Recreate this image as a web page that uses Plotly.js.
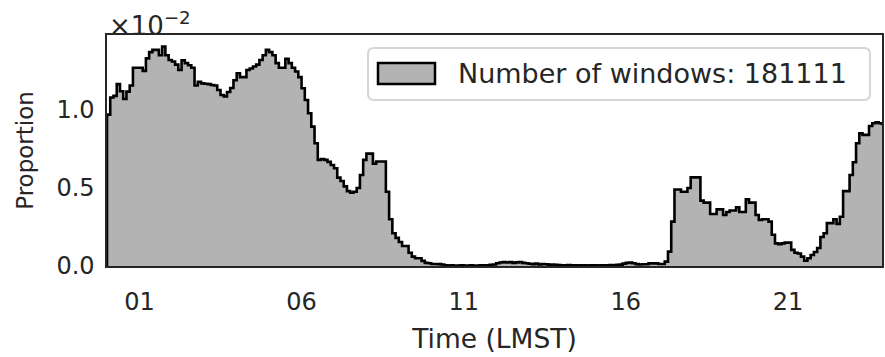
<!DOCTYPE html>
<html>
<head>
<meta charset="utf-8">
<script src="https://cdn.plot.ly/plotly-3.0.1.min.js"></script>
<style>
  html, body { margin: 0; padding: 0; background: #fff; }
  #chart { width: 885px; height: 357px; }
</style>
</head>
<body>
<div id="chart"></div>
<script>
// histogram of window start times, 0.1 h bins, proportion in units of 1e-2
const binWidth = 0.1;
const proportion = [
  0.97, 1.08, 1.09, 1.165, 1.12, 1.07, 1.117, 1.156, 1.27, 1.27,
  1.27, 1.25, 1.33, 1.37, 1.385, 1.385, 1.35, 1.406, 1.35, 1.32,
  1.31, 1.29, 1.256, 1.318, 1.30, 1.286, 1.27, 1.156, 1.18, 1.17,
  1.168, 1.165, 1.16, 1.156, 1.128, 1.096, 1.087, 1.115, 1.14, 1.19,
  1.235, 1.21, 1.21, 1.256, 1.265, 1.278, 1.29, 1.32, 1.35, 1.385,
  1.37, 1.35, 1.30, 1.27, 1.27, 1.327, 1.30, 1.27, 1.246, 1.21,
  1.139, 1.064, 0.979, 0.893, 0.786, 0.68, 0.686, 0.68, 0.667, 0.647,
  0.626, 0.566, 0.545, 0.51, 0.48, 0.47, 0.476, 0.50, 0.583, 0.68,
  0.72, 0.72, 0.655, 0.67, 0.67, 0.67, 0.476, 0.30, 0.21, 0.18,
  0.154, 0.128, 0.128, 0.085, 0.06, 0.05, 0.05, 0.033, 0.02, 0.018,
  0.013, 0.013, 0.012, 0.01, 0.004, 0.003, 0.004, 0.002, 0.003, 0.004,
  0.003, 0.003, 0.004, 0.002, 0.003, 0.004, 0.005, 0.005, 0.008, 0.01,
  0.018, 0.022, 0.025, 0.022, 0.025, 0.02, 0.023, 0.026, 0.02, 0.018,
  0.014, 0.012, 0.015, 0.01, 0.012, 0.011, 0.009, 0.01, 0.008, 0.006,
  0.005, 0.004, 0.006, 0.005, 0.004, 0.003, 0.005, 0.004, 0.003, 0.004,
  0.005, 0.003, 0.004, 0.005, 0.004, 0.006, 0.005, 0.007, 0.009, 0.015,
  0.02, 0.022, 0.018, 0.012, 0.01, 0.011, 0.011, 0.017, 0.017, 0.017,
  0.013, 0.013, 0.028, 0.092, 0.284, 0.49, 0.49, 0.476, 0.476, 0.50,
  0.568, 0.568, 0.568, 0.419, 0.406, 0.406, 0.333, 0.333, 0.363, 0.363,
  0.327, 0.346, 0.356, 0.356, 0.376, 0.346, 0.346, 0.427, 0.406, 0.406,
  0.327, 0.295, 0.30, 0.30, 0.284, 0.20, 0.145, 0.14, 0.145, 0.15,
  0.15, 0.103, 0.085, 0.08, 0.06, 0.034, 0.05, 0.07, 0.09, 0.115,
  0.186, 0.21, 0.275, 0.275, 0.30, 0.27, 0.316, 0.48, 0.48, 0.583,
  0.665, 0.786, 0.85, 0.84, 0.84, 0.897, 0.915, 0.92, 0.915, 0.91
];
const tickHours = [1, 6, 11, 16, 21];
const tickText = ['01', '06', '11', '16', '21'];
const yTicks = [0, 0.5, 1.0];
const legendLabel = 'Number of windows: 181111';

const ink = '#262626';
const font = 'DejaVu Sans, sans-serif';

// step outline: start on the baseline, then one point per bin edge
const xs = [0];
const ys = [0];
proportion.forEach((v, i) => { xs.push(i * binWidth); ys.push(v); });
xs.push(proportion.length * binWidth); ys.push(proportion[proportion.length - 1]);
xs.push(proportion.length * binWidth); ys.push(0);

const data = [{
  x: xs,
  y: ys,
  type: 'scatter',
  mode: 'lines',
  line: {shape: 'hv', color: '#000', width: 2.6},
  fill: 'tozeroy',
  fillcolor: '#b3b3b3',
  hoverinfo: 'skip',
  showlegend: false
}];

// plot box in pixels, used to place the hand-made legend
const W = 885, H = 357, L = 107, R = 3, T = 35, B = 91;
const pw = W - L - R, ph = H - T - B;
const px = v => (v - L) / pw;
const py = v => (H - B - v) / ph;

function roundRect(x0, y0, x1, y1, r) {
  const rx = r / pw, ry = r / ph;
  const a = px(x0), b = px(x1), c = py(y1), d = py(y0);
  return 'M' + (a + rx) + ',' + c + ' L' + (b - rx) + ',' + c +
    ' Q' + b + ',' + c + ' ' + b + ',' + (c + ry) +
    ' L' + b + ',' + (d - ry) + ' Q' + b + ',' + d + ' ' + (b - rx) + ',' + d +
    ' L' + (a + rx) + ',' + d + ' Q' + a + ',' + d + ' ' + a + ',' + (d - ry) +
    ' L' + a + ',' + (c + ry) + ' Q' + a + ',' + c + ' ' + (a + rx) + ',' + c + ' Z';
}

const layout = {
  width: W,
  height: H,
  margin: {l: L, r: R, t: T, b: B},
  paper_bgcolor: '#fff',
  plot_bgcolor: '#fff',
  font: {family: font, color: ink, size: 24},
  showlegend: false,
  xaxis: {
    range: [0, 23.9],
    tickvals: tickHours,
    ticktext: tickText,
    ticks: 'outside',
    ticklen: 14,
    tickcolor: 'rgba(0,0,0,0)',
    showgrid: false,
    zeroline: false,
    showline: true,
    mirror: true,
    linecolor: ink,
    linewidth: 1.6,
    tickfont: {size: 24},
    title: {text: 'Time (LMST)', font: {size: 26.5}, standoff: 14}
  },
  yaxis: {
    range: [0, 1.48],
    tickvals: yTicks,
    tickformat: '.1f',
    ticks: 'outside',
    ticklen: 6,
    tickcolor: 'rgba(0,0,0,0)',
    showgrid: false,
    zeroline: false,
    showline: true,
    mirror: true,
    linecolor: ink,
    linewidth: 1.6,
    tickfont: {size: 24},
    title: {text: 'Proportion', font: {size: 23}, standoff: 16}
  },
  shapes: [
    {type: 'path', xref: 'paper', yref: 'paper', path: roundRect(368, 48, 870, 100, 6),
      line: {color: '#d6d6d6', width: 2}, fillcolor: 'rgba(255,255,255,0.8)'},
    {type: 'rect', xref: 'paper', yref: 'paper',
      x0: px(378), x1: px(435), y0: py(84), y1: py(63),
      line: {color: '#000', width: 2.5}, fillcolor: '#b3b3b3'}
  ],
  annotations: [
    {xref: 'paper', yref: 'paper', x: px(456), y: py(73.5), xanchor: 'left', yanchor: 'middle',
      text: legendLabel, showarrow: false, font: {size: 27, color: ink}},
    {xref: 'paper', yref: 'paper', x: 0, y: py(5), xanchor: 'left', yanchor: 'top',
      text: '×10<sup>−2</sup>', showarrow: false, font: {size: 26, color: ink}}
  ]
};

Plotly.newPlot('chart', data, layout, {displayModeBar: false, staticPlot: true});
</script>
</body>
</html>
